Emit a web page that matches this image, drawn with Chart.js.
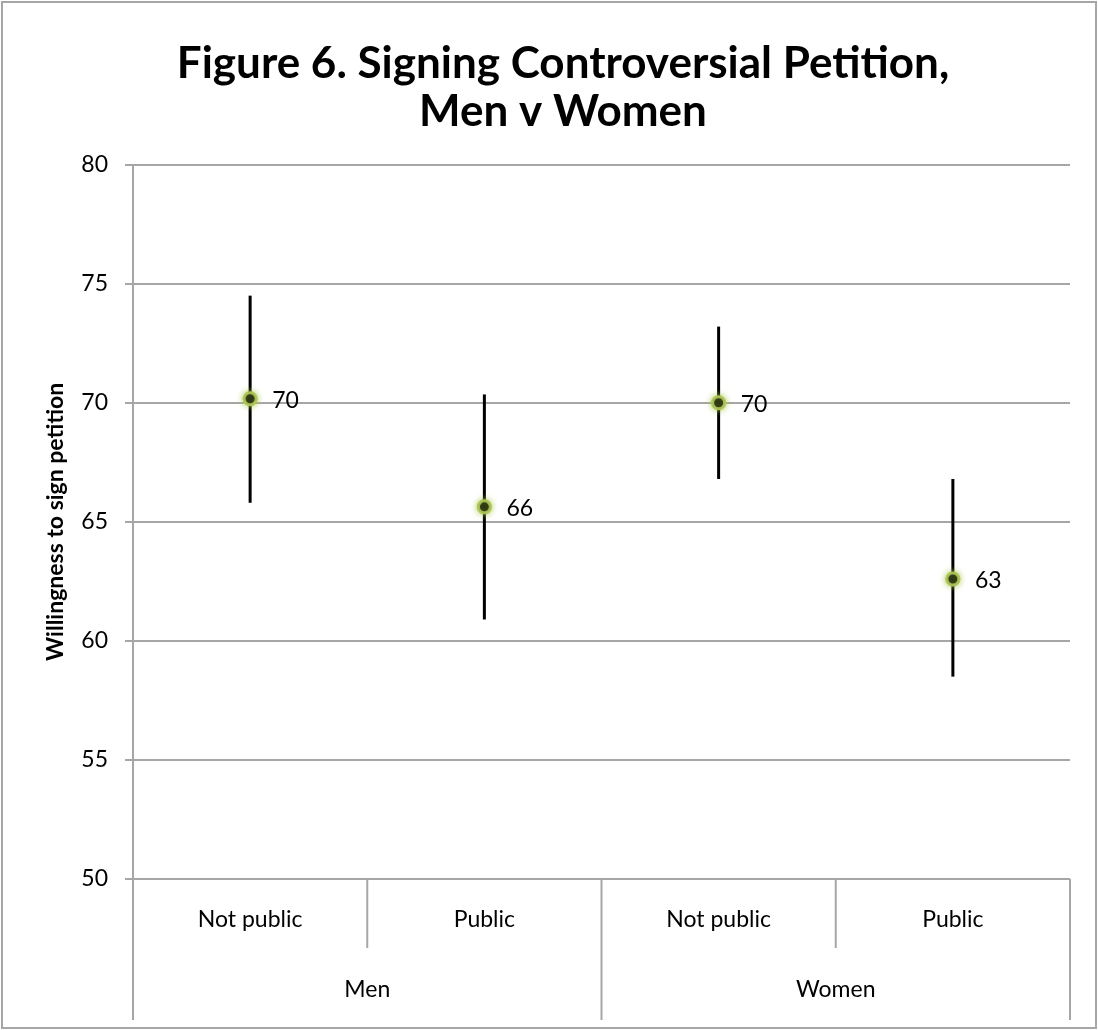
<!DOCTYPE html>
<html lang="en">
<head>
    <meta charset="UTF-8">
    <title>Figure 6. Signing Controversial Petition, Men v Women</title>
    <script src="https://cdn.jsdelivr.net/npm/chart.js"></script>
    <style>
        body { margin: 0; background: #fff; }
        #chart { display: block; }
    </style>
</head>
<body>
<canvas id="chart" width="1098" height="1030"></canvas>
<script>
    // chart values
    const categories = ['Not public', 'Public', 'Not public', 'Public'];
    const groups = ['Men', 'Women'];
    const means = [70.17, 65.63, 70.0, 62.6];
    const lower = [65.8, 60.9, 66.8, 58.5];
    const upper = [74.5, 70.35, 73.2, 66.8];
    const yTicks = [50, 55, 60, 65, 70, 75, 80];

    const FONT = 'Lato, "Open Sans", sans-serif';
    const GRID = '#a6a6a6';

    // frame, error bars, value labels and the two-level category axis
    const extras = {
        id: 'extras',
        beforeDraw(chart) {
            const ctx = chart.ctx;
            ctx.save();
            ctx.fillStyle = '#fff';
            ctx.fillRect(0, 0, chart.width, chart.height);
            ctx.strokeStyle = GRID;
            ctx.lineWidth = 2;
            ctx.strokeRect(2, 2, chart.width - 4, chart.height - 4);
            ctx.restore();
        },
        afterDatasetsDraw(chart) {
            const ctx = chart.ctx;
            const x = chart.scales.x, y = chart.scales.y;
            const area = chart.chartArea;
            ctx.save();

            // error bars
            ctx.strokeStyle = '#000';
            ctx.lineWidth = 3;
            means.forEach((m, i) => {
                const px = x.getPixelForValue(i);
                ctx.beginPath();
                ctx.moveTo(px, y.getPixelForValue(upper[i]));
                ctx.lineTo(px, y.getPixelForValue(lower[i]));
                ctx.stroke();
            });

            // separators under the axis
            ctx.strokeStyle = GRID;
            ctx.lineWidth = 2;
            const bottom = area.bottom;
            const edge = (i) => (x.getPixelForValue(i) + x.getPixelForValue(i + 1)) / 2;
            [edge(0), edge(2)].forEach(px => {
                ctx.beginPath();
                ctx.moveTo(px, bottom);
                ctx.lineTo(px, bottom + 69);
                ctx.stroke();
            });
            [area.left, edge(1), area.right].forEach(px => {
                ctx.beginPath();
                ctx.moveTo(px, bottom);
                ctx.lineTo(px, bottom + 141);
                ctx.stroke();
            });

            // group labels
            ctx.fillStyle = '#000';
            ctx.font = '23px ' + FONT;
            ctx.textAlign = 'center';
            ctx.textBaseline = 'middle';
            const bounds = [area.left, edge(1), area.right];
            groups.forEach((g, i) => {
                ctx.fillText(g, (bounds[i] + bounds[i + 1]) / 2, bottom + 111);
            });

            // redraw points on top of the bars, with a soft glow
            ctx.save();
            ctx.shadowColor = 'rgba(170, 200, 70, 0.9)';
            ctx.shadowBlur = 6;
            chart.getDatasetMeta(0).data.forEach(pt => pt.draw(ctx));
            ctx.restore();

            // value labels
            ctx.textAlign = 'left';
            means.forEach((m, i) => {
                ctx.fillText(String(Math.round(m)), x.getPixelForValue(i) + 22, y.getPixelForValue(m) + 2);
            });
            ctx.restore();
        }
    };

    new Chart(document.getElementById('chart'), {
        type: 'line',
        data: {
            labels: categories,
            datasets: [{
                data: means,
                showLine: false,
                pointRadius: 6,
                pointBackgroundColor: '#000',
                pointBorderColor: 'rgba(175, 200, 90, 0.9)',
                pointBorderWidth: 3
            }]
        },
        options: {
            responsive: false,
            animation: false,
            events: [],
            layout: { padding: { left: 56, right: 28, top: 20, bottom: 0 } },
            plugins: {
                legend: { display: false },
                tooltip: { enabled: false },
                title: {
                    display: true,
                    text: ['Figure 6. Signing Controversial Petition,', 'Men v Women'],
                    color: '#000',
                    font: { family: FONT, size: 44, weight: 'bold', lineHeight: 1.11 },
                    padding: { top: 19, bottom: 28 }
                }
            },
            scales: {
                x: {
                    offset: true,
                    grid: { display: false, drawTicks: false },
                    border: { display: false },
                    ticks: { color: '#000', font: { family: FONT, size: 23 }, padding: 27, maxRotation: 0 },
                    afterFit(scale) { scale.height = 151; }
                },
                y: {
                    min: 50,
                    max: 80,
                    afterBuildTicks(scale) { scale.ticks = yTicks.map(v => ({ value: v })); },
                    grid: { color: GRID, lineWidth: 2, tickLength: 8 },
                    border: { color: GRID, width: 2 },
                    ticks: { color: '#000', font: { family: FONT, size: 23 }, padding: 17 },
                    title: {
                        display: true,
                        text: 'Willingness to sign petition',
                        color: '#000',
                        font: { family: FONT, size: 23, weight: 'bold' },
                        padding: { top: -14, bottom: 0 }
                    },
                    afterFit(scale) { scale.width = 77; }
                }
            }
        },
        plugins: [extras]
    });
</script>
</body>
</html>
